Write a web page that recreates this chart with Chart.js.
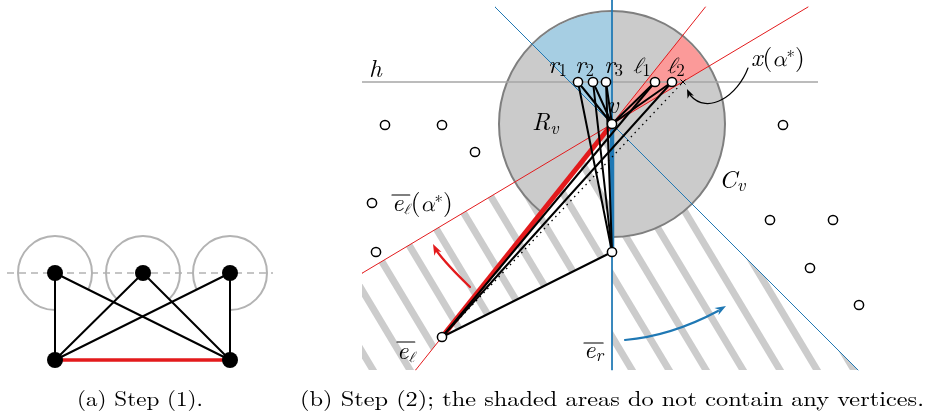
<!DOCTYPE html>
<html>
<head>
<meta charset="utf-8">
<script src="https://cdn.jsdelivr.net/npm/chart.js@4.4.1/dist/chart.umd.min.js"></script>
<style>
  html, body { margin: 0; padding: 0; background: #fff; }
  #wrap { width: 928px; height: 419px; }
</style>
</head>
<body>
<div id="wrap"><canvas id="c"></canvas></div>
<script>
// ---- panel (a): vertices and edges ----
const aTop = [[55, 273], [143, 273], [230, 273]];
const aBottom = [[55, 360], [230, 360]];
const aEdges = [[0, 0], [0, 1], [1, 0], [1, 1], [2, 0], [2, 1]]; // top index -> bottom index
const aGuide = [[7, 273], [273, 273]];
const aDiskRadius = 37;

// ---- panel (b): named vertices ----
const bNames = ['v', 'el', 'er', 'r1', 'r2', 'r3', 'l1', 'l2', 'xa', 'redTop'];
const bCoords = [[612, 124], [442, 337], [612, 252], [578, 82], [593, 82], [606, 82], [655, 82], [672, 82], [683, 82], [808, 7]];
const bOthers = [[385, 125], [442, 125], [475, 152], [372, 203], [376, 252], [783, 125], [770, 220], [833, 220], [810, 268], [859, 305]];
const bOpenVerts = ['v', 'el', 'er', 'r1', 'r2', 'r3', 'l1', 'l2'];
const bEdges = [['r1', 'v'], ['r2', 'v'], ['r3', 'v'], ['l1', 'v'], ['l2', 'v'],
                ['r1', 'er'], ['r2', 'er'], ['r3', 'er'], ['el', 'l1'], ['el', 'l2'], ['el', 'er']];
const bHLine = [[362, 82], [818, 82]];
const bDiskRadius = 113;
const bFrame = [362, 7, 928, 370];

const P = {};
bNames.forEach((n, i) => { P[n] = bCoords[i]; });

const RED = '#e31a1c', BLUE = '#1f78b4', GRAY = '#cbcbcb';
const SERIF = '"Latin Modern Roman", "DejaVu Serif", serif';
const MATH = '"Latin Modern Math", "STIX Two Math", "Noto Serif", "DejaVu Serif", serif';

// extend the line through p,q to the box
function clipLine(p, q, box) {
  const dx = q[0] - p[0], dy = q[1] - p[1];
  let t0 = -1e9, t1 = 1e9;
  [[-dx, p[0] - box[0]], [dx, box[2] - p[0]], [-dy, p[1] - box[1]], [dy, box[3] - p[1]]].forEach(([a, b]) => {
    if (a === 0) return;
    const r = b / a;
    if (a < 0) t0 = Math.max(t0, r); else t1 = Math.min(t1, r);
  });
  return [[p[0] + t0 * dx, p[1] + t0 * dy], [p[0] + t1 * dx, p[1] + t1 * dy]];
}

const red1 = clipLine(P.el, P.v, bFrame);       // through e_l and v
const red2 = clipLine(P.v, P.redTop, bFrame);   // e_l(alpha*)
const blueDiag = clipLine(P.v, [P.v[0] + 1, P.v[1] + 1], bFrame);
const blueVert = clipLine(P.v, [P.v[0], P.v[1] + 1], [362, 0, 928, 370]);

const pt = p => ({ x: p[0], y: p[1] });
const seg = (a, b) => [pt(a), pt(b)];
const lineSet = (data, color, width, order, dash) => ({
  data, showLine: true, borderColor: color, borderWidth: width, pointRadius: 0,
  order, clip: false, borderDash: dash || [], borderCapStyle: 'round'
});

const datasets = [];
// thin construction lines
[red1, red2].forEach(l => datasets.push(lineSet(seg(...l), RED, 1, 6)));
datasets.push(lineSet(seg(...blueDiag), BLUE, 1, 6));
datasets.push(lineSet(seg(...blueVert), BLUE, 1, 6));
// thick edges
datasets.push(Object.assign(lineSet(seg(P.el, P.v), RED, 5, 5), { borderCapStyle: 'butt' }));
datasets.push(Object.assign(lineSet(seg(P.v, P.er), BLUE, 4.5, 5), { borderCapStyle: 'butt' }));
// black edges
bEdges.forEach(([a, b]) => datasets.push(lineSet(seg(P[a], P[b]), '#000', 2, 3)));
datasets.push(Object.assign(lineSet(seg(P.el, P.xa), '#000', 1.3, 2, [1.5, 4]), { borderCapStyle: 'butt' }));
// panel (a) edges
aEdges.forEach(([t, b]) => datasets.push(lineSet(seg(aTop[t], aBottom[b]), '#000', 2, 3)));
datasets.push(lineSet(seg(aBottom[0], aBottom[1]), RED, 3.5, 4));
// vertices
datasets.push({ data: aTop.concat(aBottom).map(pt), pointRadius: 8, pointBackgroundColor: '#000',
  pointBorderColor: '#000', pointBorderWidth: 0, showLine: false, order: 0, clip: false });
datasets.push({ data: bOpenVerts.map(n => pt(P[n])).concat(bOthers.map(pt)), pointRadius: 4.6,
  pointBackgroundColor: '#fff', pointBorderColor: '#000', pointBorderWidth: 1.5, showLine: false, order: 0, clip: false });

function lineIntersect(p1, p2, p3, p4) {
  const d = (p1[0] - p2[0]) * (p3[1] - p4[1]) - (p1[1] - p2[1]) * (p3[0] - p4[0]);
  const a = p1[0] * p2[1] - p1[1] * p2[0], b = p3[0] * p4[1] - p3[1] * p4[0];
  return [(a * (p3[0] - p4[0]) - (p1[0] - p2[0]) * b) / d, (a * (p3[1] - p4[1]) - (p1[1] - p2[1]) * b) / d];
}

function polyPath(ctx, pts) {
  ctx.beginPath();
  pts.forEach((p, i) => i ? ctx.lineTo(p[0], p[1]) : ctx.moveTo(p[0], p[1]));
  ctx.closePath();
}

function hatch(ctx, poly, chart, whiteFirst) {
  ctx.save();
  polyPath(ctx, poly);
  if (whiteFirst) { ctx.fillStyle = '#fff'; ctx.fill(); }
  ctx.clip();
  ctx.strokeStyle = '#cccccc';
  ctx.lineWidth = 7;
  const H = chart.height;
  for (let c = -400; c < 1000; c += 37) {
    ctx.beginPath();
    ctx.moveTo(c + 33, 0);
    ctx.lineTo(c + 33 + 0.6 * H, H);
    ctx.stroke();
  }
  ctx.restore();
}

function arrowHead(ctx, tip, from, color, len, wid) {
  const a = Math.atan2(tip[1] - from[1], tip[0] - from[0]);
  ctx.save();
  ctx.translate(tip[0], tip[1]);
  ctx.rotate(a);
  ctx.fillStyle = color;
  ctx.beginPath();
  ctx.moveTo(0, 0);
  ctx.lineTo(-len, -wid / 2);
  ctx.lineTo(-len * 0.7, 0);
  ctx.lineTo(-len, wid / 2);
  ctx.closePath();
  ctx.fill();
  ctx.restore();
}

// runs: [text, font, dy]
function runs(ctx, x, y, parts) {
  let cx = x;
  parts.forEach(([t, f, dy]) => {
    ctx.font = f;
    ctx.fillText(t, cx, y + (dy || 0));
    cx += ctx.measureText(t).width;
  });
  return cx;
}

const diagram = {
  id: 'diagram',
  beforeDatasetsDraw(chart) {
    const ctx = chart.ctx;
    const X = p => [chart.scales.x.getPixelForValue(p[0]), chart.scales.y.getPixelForValue(p[1])];

    // panel (a): disks, covered faces, guide
    ctx.save();
    ctx.strokeStyle = '#b3b3b3';
    ctx.lineWidth = 2;
    aTop.forEach(p => {
      const q = X(p);
      ctx.beginPath();
      ctx.arc(q[0], q[1], aDiskRadius, 0, Math.PI * 2);
      ctx.stroke();
    });
    const x1 = lineIntersect(aTop[0], aBottom[1], aTop[1], aBottom[0]);
    const x2 = lineIntersect(aTop[1], aBottom[1], aTop[2], aBottom[0]);
    polyPath(ctx, [aTop[0], x1, aTop[1], x2, aTop[2], aBottom[1], aBottom[0]].map(X));
    ctx.fillStyle = '#fff';
    ctx.fill();
    ctx.setLineDash([7, 5]);
    ctx.lineWidth = 1.5;
    ctx.beginPath();
    ctx.moveTo(...X(aGuide[0]));
    ctx.lineTo(...X(aGuide[1]));
    ctx.stroke();
    ctx.restore();

    // panel (b): hatched regions
    const v = X(P.v);
    hatch(ctx, [P.v, red2[0], [bFrame[0], bFrame[3]], red1[0], P.el, P.er].map(X), chart, false);
    hatch(ctx, [P.v, blueDiag[1], [P.v[0], bFrame[3]]].map(X), chart, false);

    // disk C_v
    ctx.save();
    ctx.beginPath();
    ctx.arc(v[0], v[1], bDiskRadius, 0, Math.PI * 2);
    ctx.fillStyle = GRAY;
    ctx.fill();
    ctx.strokeStyle = '#7f7f7f';
    ctx.lineWidth = 2;
    ctx.stroke();
    // sectors
    const sector = (a0, a1, col) => {
      ctx.beginPath();
      ctx.moveTo(v[0], v[1]);
      ctx.arc(v[0], v[1], bDiskRadius - 1, a0, a1);
      ctx.closePath();
      ctx.fillStyle = col;
      ctx.fill();
    };
    const ang = p => { const q = X(p); return Math.atan2(q[1] - v[1], q[0] - v[0]); };
    sector(ang(blueDiag[0]), ang(blueVert[0]), '#a6cee3');
    sector(ang(red1[1]), ang(red2[1]), '#fb9a99');
    ctx.restore();

    // empty triangle e_l v e_r
    hatch(ctx, [P.el, P.v, P.er].map(X), chart, true);

    // line h
    ctx.save();
    ctx.strokeStyle = '#a6a6a6';
    ctx.lineWidth = 1.5;
    ctx.beginPath();
    ctx.moveTo(...X(bHLine[0]));
    ctx.lineTo(...X(bHLine[1]));
    ctx.stroke();
    ctx.restore();
  },
  afterDatasetsDraw(chart) {
    const ctx = chart.ctx;
    ctx.save();
    // the x(alpha*) cross
    const xa = P.xa;
    ctx.strokeStyle = '#000';
    ctx.lineWidth = 1;
    ctx.beginPath();
    ctx.moveTo(xa[0] - 2.5, xa[1] - 2.5); ctx.lineTo(xa[0] + 2.5, xa[1] + 2.5);
    ctx.moveTo(xa[0] + 2.5, xa[1] - 2.5); ctx.lineTo(xa[0] - 2.5, xa[1] + 2.5);
    ctx.stroke();

    // curved arrows
    ctx.lineCap = 'round';
    ctx.strokeStyle = RED; ctx.lineWidth = 2.2;
    ctx.beginPath(); ctx.moveTo(470, 287); ctx.quadraticCurveTo(446, 264, 436, 250); ctx.stroke();
    arrowHead(ctx, [433, 244], [440, 258], RED, 11, 8);
    ctx.strokeStyle = BLUE;
    ctx.beginPath(); ctx.moveTo(625, 340); ctx.quadraticCurveTo(671, 336, 718, 311); ctx.stroke();
    arrowHead(ctx, [726, 306], [700, 321], BLUE, 11, 8);
    ctx.strokeStyle = '#000'; ctx.lineWidth = 1.2;
    ctx.beginPath(); ctx.moveTo(748, 68); ctx.bezierCurveTo(738, 95, 708, 116, 690, 95); ctx.stroke();
    arrowHead(ctx, [687, 89], [692, 100], '#000', 9, 7);

    // labels
    ctx.fillStyle = '#000';
    ctx.textBaseline = 'alphabetic';
    const IT = 'italic 25px ' + SERIF, RM = '25px ' + SERIF, SUB = '17px ' + SERIF, SUBI = 'italic 18px ' + SERIF;
    const MI = 'italic 22px ' + MATH, MSUB = 'italic 15px ' + MATH;
    runs(ctx, 369, 77, [['h', IT]]);
    [['r', '1', 548], ['r', '2', 575], ['r', '3', 604], ['ℓ', '1', 633], ['ℓ', '2', 667]].forEach(([l, s, x]) => {
      runs(ctx, x, 73, [[l, l === 'r' ? IT : MI], [s, SUB, 3]]);
    });
    runs(ctx, 607, 113, [['v', IT]]);
    runs(ctx, 532, 130, [['R', IT], ['v', SUBI, 4]]);
    runs(ctx, 719, 188, [['C', IT], ['v', SUBI, 3]]);
    runs(ctx, 751, 66, [['x', IT], ['(', RM], ['α', MI], ['∗', SUB, -8], [')', RM]]);
    const overline = (x0, x1, y) => {
      ctx.lineWidth = 1.2; ctx.beginPath(); ctx.moveTo(x0, y); ctx.lineTo(x1, y); ctx.stroke();
    };
    let e1 = runs(ctx, 392, 211, [['e', IT], ['ℓ', MSUB, 3]]);
    overline(392, e1, 195);
    runs(ctx, e1 + 1, 211, [['(', RM], ['α', MI], ['∗', SUB, -8], [')', RM]]);
    let e2 = runs(ctx, 397, 359, [['e', IT], ['ℓ', MSUB, 3]]);
    overline(397, e2, 342);
    let e3 = runs(ctx, 584, 358, [['e', IT], ['r', SUBI, 3]]);
    overline(584, e3, 343);

    // captions, stretched to the reference widths
    const caption = (t, x0, x1, y) => {
      ctx.font = '21px ' + SERIF;
      const w = ctx.measureText(t).width;
      ctx.save();
      ctx.translate(x0, y);
      ctx.scale((x1 - x0) / w, 1);
      ctx.fillText(t, 0, 0);
      ctx.restore();
    };
    caption('(a) Step (1).', 77, 203, 406);
    caption('(b) Step (2); the shaded areas do not contain any vertices.', 300, 924, 406);
    ctx.restore();
  }
};

new Chart(document.getElementById('c'), {
  type: 'scatter',
  data: { datasets },
  options: {
    responsive: true,
    maintainAspectRatio: false,
    animation: false,
    events: [],
    layout: { padding: 0, autoPadding: false },
    plugins: { legend: { display: false }, tooltip: { enabled: false } },
    scales: {
      x: { type: 'linear', min: 0, max: 928, display: false },
      y: { type: 'linear', min: 0, max: 419, reverse: true, display: false }
    }
  },
  plugins: [diagram]
});
</script>
</body>
</html>
